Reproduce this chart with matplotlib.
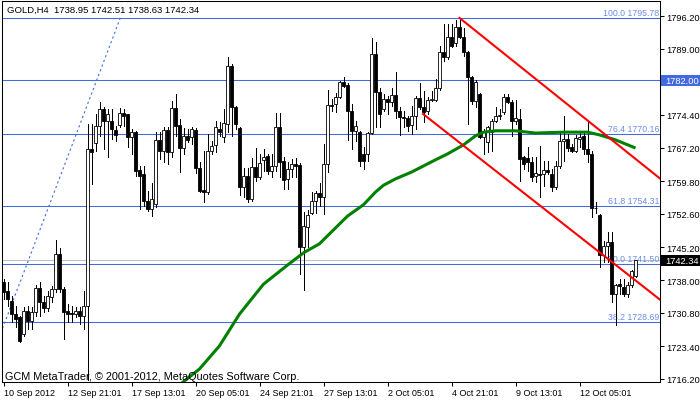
import numpy as np
import matplotlib
matplotlib.use("Agg")
import matplotlib.pyplot as plt
from matplotlib.patches import Rectangle
from matplotlib.transforms import blended_transform_factory

plt.rcParams['font.family'] = ['Liberation Sans', 'DejaVu Sans']

# H4 bars, bar 0 = first bar at the left edge (10 Sep 2012)
opens = [1737.6, 1735.6, 1733.4, 1730.5, 1729.9, 1726.1, 1731.2, 1729.0, 1731.0, 1736.3,
         1733.2, 1731.9, 1734.3, 1736.0, 1743.8, 1736.0, 1731.2, 1730.8, 1730.5, 1731.2,
         1730.1, 1732.3, 1766.9, 1768.2, 1772.0, 1775.7, 1773.1, 1773.1, 1771.1, 1772.2,
         1774.8, 1774.6, 1769.5, 1770.6, 1762.3, 1761.4, 1755.4, 1753.7, 1754.8, 1768.9,
         1766.5, 1771.1, 1766.2, 1775.9, 1772.2, 1767.1, 1769.8, 1769.5, 1771.1, 1762.7,
         1757.9, 1757.4, 1766.5, 1767.8, 1771.3, 1769.5, 1772.4, 1785.2, 1776.2, 1771.5,
         1758.5, 1760.9, 1755.9, 1762.9, 1760.7, 1764.5, 1765.4, 1762.0, 1763.1, 1771.7,
         1764.3, 1760.3, 1762.5, 1763.6, 1763.4, 1745.3, 1749.7, 1752.8, 1755.4, 1757.2,
         1756.3, 1763.6, 1776.6, 1776.8, 1778.4, 1781.7, 1781.0, 1775.3, 1770.9, 1770.6,
         1765.8, 1765.8, 1770.4, 1787.8, 1779.5, 1775.7, 1777.9, 1777.3, 1778.8, 1775.3,
         1773.9, 1773.7, 1772.2, 1774.2, 1778.1, 1776.2, 1775.3, 1777.7, 1777.7, 1780.3,
         1788.3, 1787.2, 1791.6, 1790.3, 1793.8, 1791.6, 1788.3, 1782.8, 1777.5, 1779.0,
         1769.5, 1768.4, 1770.6, 1773.1, 1774.2, 1775.1, 1778.4, 1777.3, 1773.1, 1773.5,
         1765.1, 1764.9, 1764.0, 1760.9, 1761.4, 1761.4, 1762.3, 1761.4, 1758.5, 1763.1,
         1768.7, 1769.1, 1767.3, 1766.5, 1769.1, 1769.8, 1766.9, 1765.8, 1753.9, 1752.4,
         1743.5, 1745.5, 1746.4, 1734.9, 1737.1, 1736.5, 1734.9, 1736.9, 1738.95]
highs = [1738.2, 1737.6, 1734.5, 1732.3, 1730.1, 1732.1, 1732.3, 1732.1, 1736.9, 1737.6,
         1734.5, 1735.6, 1736.7, 1746.8, 1745.1, 1736.5, 1732.7, 1732.3, 1732.1, 1732.1,
         1735.6, 1772.4, 1772.4, 1774.6, 1777.3, 1776.2, 1775.7, 1775.7, 1772.0, 1775.9,
         1775.7, 1774.6, 1771.3, 1770.9, 1763.1, 1763.1, 1757.6, 1759.4, 1770.6, 1770.6,
         1771.7, 1771.7, 1777.5, 1779.0, 1773.5, 1771.5, 1771.3, 1771.7, 1771.5, 1764.0,
         1766.5, 1770.2, 1768.7, 1773.1, 1772.8, 1775.7, 1787.2, 1785.6, 1776.4, 1771.7,
         1762.7, 1762.7, 1764.9, 1767.1, 1765.8, 1766.9, 1765.8, 1765.8, 1774.8, 1774.8,
         1765.1, 1764.0, 1764.7, 1764.9, 1763.8, 1753.0, 1753.5, 1757.4, 1757.6, 1759.4,
         1768.0, 1779.9, 1777.9, 1779.2, 1781.9, 1782.8, 1781.4, 1776.8, 1773.1, 1770.9,
         1767.3, 1770.6, 1791.4, 1790.5, 1780.3, 1779.0, 1778.6, 1780.3, 1783.9, 1776.2,
         1775.3, 1774.2, 1776.4, 1778.6, 1781.4, 1779.7, 1778.4, 1779.7, 1782.3, 1789.6,
         1794.4, 1794.4, 1794.4, 1795.3, 1795.78, 1793.6, 1788.5, 1783.0, 1782.1, 1779.2,
         1771.3, 1772.0, 1773.5, 1776.2, 1775.7, 1779.0, 1779.0, 1777.7, 1777.7, 1775.7,
         1765.4, 1767.3, 1765.1, 1765.1, 1767.6, 1764.3, 1764.3, 1762.5, 1764.3, 1770.4,
         1774.2, 1770.2, 1768.0, 1770.0, 1770.6, 1770.9, 1773.1, 1766.5, 1755.2, 1752.6,
         1746.6, 1748.6, 1748.6, 1737.1, 1738.2, 1738.2, 1737.6, 1740.2, 1742.51]
lows = [1733.8, 1732.3, 1728.8, 1727.7, 1724.4, 1725.7, 1727.2, 1727.2, 1730.1, 1730.1,
        1731.0, 1731.2, 1733.2, 1735.4, 1735.4, 1725.0, 1728.8, 1728.8, 1729.9, 1728.3,
        1727.2, 1716.0, 1759.2, 1766.5, 1769.8, 1766.9, 1765.1, 1769.1, 1768.7, 1771.7,
        1772.0, 1767.3, 1765.8, 1760.9, 1753.7, 1754.3, 1753.2, 1752.1, 1754.1, 1764.7,
        1764.0, 1763.6, 1765.1, 1769.8, 1761.8, 1765.8, 1768.4, 1768.0, 1761.6, 1757.4,
        1755.2, 1757.0, 1765.8, 1766.2, 1769.8, 1768.4, 1770.6, 1769.8, 1771.3, 1756.8,
        1756.3, 1755.2, 1755.4, 1759.8, 1760.3, 1762.0, 1761.4, 1760.7, 1762.0, 1760.7,
        1758.1, 1758.1, 1760.7, 1760.7, 1739.3, 1735.8, 1745.3, 1752.6, 1752.8, 1754.3,
        1752.6, 1761.8, 1775.3, 1775.1, 1778.1, 1780.6, 1768.9, 1766.9, 1768.7, 1763.1,
        1762.5, 1764.3, 1770.2, 1771.7, 1771.7, 1775.3, 1774.6, 1776.4, 1773.7, 1770.0,
        1771.7, 1770.9, 1770.2, 1771.3, 1775.7, 1772.8, 1774.6, 1777.5, 1777.5, 1779.9,
        1786.3, 1786.7, 1789.4, 1789.6, 1791.4, 1787.4, 1772.4, 1776.8, 1776.2, 1769.3,
        1765.8, 1766.2, 1766.5, 1772.8, 1773.5, 1774.6, 1777.0, 1769.8, 1772.4, 1759.8,
        1762.5, 1762.0, 1759.8, 1759.6, 1756.3, 1758.7, 1761.4, 1757.6, 1758.1, 1762.7,
        1764.3, 1766.5, 1766.2, 1766.2, 1767.3, 1765.8, 1764.0, 1751.9, 1752.8, 1740.9,
        1742.0, 1742.0, 1733.2, 1728.1, 1734.9, 1734.5, 1734.3, 1736.5, 1738.63]
closes = [1735.4, 1733.8, 1730.5, 1729.4, 1724.6, 1731.2, 1729.0, 1731.0, 1736.3, 1733.2,
          1731.9, 1734.5, 1736.0, 1743.8, 1736.0, 1731.0, 1730.5, 1730.6, 1731.2, 1730.1,
          1732.3, 1766.9, 1766.2, 1772.0, 1775.7, 1773.1, 1774.6, 1771.3, 1770.0, 1774.8,
          1774.2, 1769.5, 1770.6, 1762.0, 1760.9, 1755.4, 1753.7, 1755.9, 1768.9, 1766.5,
          1771.1, 1766.2, 1775.9, 1772.0, 1767.1, 1769.8, 1768.9, 1771.3, 1762.7, 1757.6,
          1757.4, 1766.5, 1767.6, 1771.7, 1770.6, 1772.6, 1785.2, 1776.2, 1772.4, 1758.5,
          1760.9, 1755.9, 1762.9, 1760.7, 1763.8, 1765.1, 1762.0, 1763.1, 1771.7, 1764.0,
          1760.1, 1762.5, 1763.6, 1763.1, 1745.3, 1749.9, 1752.4, 1755.4, 1757.2, 1756.3,
          1763.6, 1776.6, 1776.4, 1778.4, 1781.7, 1780.8, 1775.3, 1770.9, 1772.0, 1764.3,
          1764.3, 1770.4, 1787.8, 1779.5, 1774.6, 1777.9, 1777.3, 1778.8, 1775.3, 1773.9,
          1773.8, 1772.0, 1774.2, 1778.1, 1776.2, 1775.1, 1777.7, 1777.9, 1780.3, 1788.3,
          1787.2, 1791.6, 1789.6, 1793.8, 1791.6, 1788.3, 1782.8, 1777.5, 1781.7, 1769.5,
          1770.9, 1771.7, 1773.1, 1774.2, 1774.4, 1778.4, 1777.3, 1773.1, 1773.7, 1764.7,
          1763.6, 1764.0, 1760.7, 1761.6, 1761.2, 1762.3, 1761.8, 1758.5, 1763.1, 1768.7,
          1769.1, 1767.1, 1766.5, 1769.3, 1769.5, 1766.9, 1765.8, 1753.9, 1753.8, 1743.5,
          1745.5, 1746.4, 1734.9, 1736.9, 1736.7, 1734.9, 1736.9, 1740.0, 1742.34]

# moving average (green), read at some bars
maBars = [44, 49, 54, 59, 65, 71, 75, 79, 86, 90, 93, 95, 98, 102, 108, 111, 115,
          118, 120, 123, 128, 133, 140, 146, 149, 153, 158]
maValues = [1714.9, 1718.4, 1723.5, 1730.5, 1737.1, 1741.3, 1744.0, 1746.0, 1752.1,
            1754.6, 1757.4, 1758.9, 1760.3, 1761.8, 1764.5, 1765.8, 1767.8, 1769.8,
            1770.6, 1770.9, 1770.9, 1770.4, 1770.6, 1770.6, 1770.0, 1768.9, 1767.1]

# red down channel (two parallel rays)
upperBars = [114, 164.1]
upperPrices = [1795.78, 1760.4]
lowerBars = [104.9, 164.1]
lowerPrices = [1774.6, 1733.7]

# fibonacci retracement
fibAnchorBars = [-17.5, 29.2]
fibAnchorPrices = [1687.22, 1795.78]
fibPercents = ['100.0', '76.4', '61.8', '50.0', '38.2']
fibPrices = [1795.78, 1770.16, 1754.31, 1741.50, 1728.69]

hLinePrice = 1782.00
bidPrice = 1742.34

yTicks = [1716.20, 1723.40, 1730.80, 1738.00, 1745.20, 1752.60, 1759.80,
          1767.20, 1774.40, 1789.00, 1796.20]
xTickBars = [0, 16, 32, 48, 64, 80, 96, 112, 128, 144]
xTickLabels = ['10 Sep 2012', '12 Sep 21:01', '17 Sep 13:01', '20 Sep 05:01',
               '24 Sep 21:01', '27 Sep 13:01', '2 Oct 05:01', '4 Oct 21:01',
               '9 Oct 13:01', '12 Oct 05:01']

lineBlue = '#4169E1'
labelBlue = '#6C8CEB'

fig = plt.figure(figsize=(7.0, 4.02), dpi=100)
ax = fig.add_axes([2 / 700, 19 / 402, 658 / 700, 381 / 402])
ax.set_xlim(-0.375, 164.125)
ax.set_ylim(1715.53, 1799.51)

# horizontal levels
ax.axhline(bidPrice, color='#C0C0C0', lw=0.75, zorder=1)
for price in fibPrices:
    ax.axhline(price, color=lineBlue, lw=0.75, zorder=2)
ax.axhline(hLinePrice, color=lineBlue, lw=0.75, zorder=2)
for pct, price in zip(fibPercents, fibPrices):
    ax.annotate(f"{pct} {price:.2f}", xy=(163.9, price), xytext=(0, 0.6),
                textcoords='offset points', ha='right', va='bottom',
                color=labelBlue, fontsize=6.3, zorder=2)

# fib trend line (dotted)
ax.plot(fibAnchorBars, fibAnchorPrices, color=lineBlue, lw=0.8,
        linestyle=(0, (2, 2.5)), zorder=2)

# candles: wick first, body on top
barIndex = np.arange(len(opens))
o = np.array(opens)
c = np.array(closes)
bullish = c >= o
ax.vlines(barIndex, lows, highs, color='black', lw=0.72, zorder=3, antialiased=False)
ax.bar(barIndex, np.maximum(np.abs(c - o), 0.05), bottom=np.minimum(o, c), width=0.55,
       color=['white' if b else 'black' for b in bullish], edgecolor='black',
       linewidth=0.6, zorder=4)

# moving average and channel
ax.plot(maBars, maValues, color='#008000', lw=2.2, zorder=5, solid_capstyle='butt')
ax.plot(upperBars, upperPrices, color='red', lw=1.5, zorder=6)
ax.plot(lowerBars, lowerPrices, color='red', lw=1.5, zorder=6)

# axes styling
for side in ax.spines.values():
    side.set_linewidth(0.75)
    side.set_color('black')
ax.yaxis.tick_right()
ax.set_yticks(yTicks)
ax.set_yticklabels([f"{v:.2f}" for v in yTicks])
ax.set_xticks(xTickBars)
ax.set_xticklabels(xTickLabels)
for lbl in ax.get_xticklabels():
    lbl.set_horizontalalignment('left')
ax.tick_params(axis='y', direction='out', length=3, width=0.75, pad=1.5, labelsize=6.7)
ax.tick_params(axis='x', direction='out', length=3, width=0.75, pad=1.5, labelsize=6.5)

# price boxes on the right axis
boxTransform = blended_transform_factory(ax.transAxes, ax.transData)
for price, face in [(hLinePrice, lineBlue), (bidPrice, 'black')]:
    ax.add_patch(Rectangle((1.0015, price - 1.2), 0.06, 2.4, transform=boxTransform,
                           facecolor=face, edgecolor='none', clip_on=False, zorder=10))
    ax.text(1.0075, price, f"{price:.2f}", transform=boxTransform, ha='left', va='center',
            color='white', fontsize=6.7, zorder=11, clip_on=False)

fig.text(7 / 700, 1 - 10.7 / 402, "GOLD,H4  1738.95 1742.51 1738.63 1742.34",
         fontsize=6.8, va='center', ha='left')
fig.text(5 / 700, 1 - 377 / 402, "GCM MetaTrader, © 2001-2012, MetaQuotes Software Corp.",
         fontsize=7.8, va='center', ha='left', zorder=20)

fig.savefig("out.png", dpi=100)
